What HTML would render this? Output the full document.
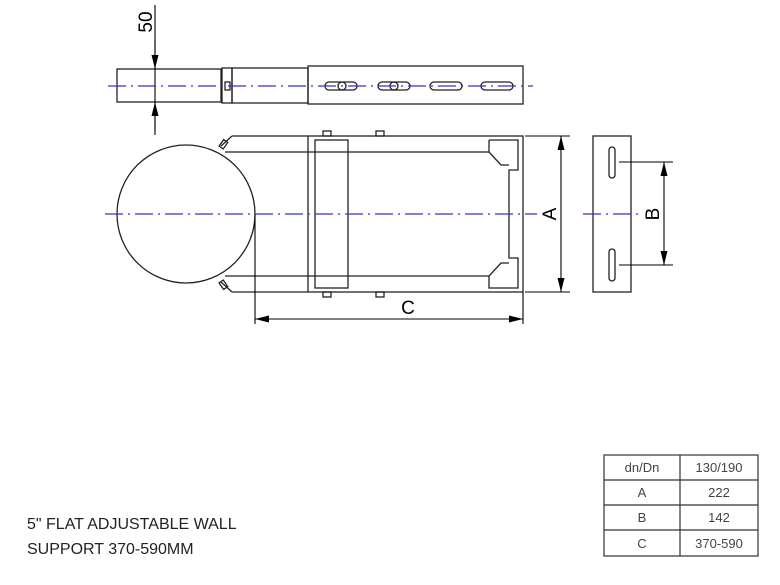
<!DOCTYPE html>
<html><head><style>
body{margin:0;background:#fff;width:780px;height:580px;overflow:hidden}
svg text{font-family:"Liberation Sans",sans-serif}
</style></head><body>
<svg width="780" height="580" viewBox="0 0 780 580" xmlns="http://www.w3.org/2000/svg">
<defs>
<marker id="ar" viewBox="0 0 16 8" refX="16" refY="4" markerWidth="16" markerHeight="7" orient="auto-start-reverse" markerUnits="userSpaceOnUse"><path d="M0,0 L16,4 L0,8z" fill="#000"/></marker>
</defs>
<g fill="none" stroke="#222" stroke-width="1.3">
<rect x="117" y="69" width="104" height="33"/>
<rect x="222" y="68" width="10" height="35"/>
<rect x="225" y="82" width="5" height="8"/>
<rect x="232" y="68" width="76" height="35"/>
<rect x="308" y="66" width="215" height="38"/>
<rect x="325" y="82" width="32" height="8" rx="4"/>
<circle cx="342" cy="86" r="4"/>
<rect x="378" y="82" width="32" height="8" rx="4"/>
<circle cx="394" cy="86" r="4"/>
<rect x="430" y="82" width="32" height="8" rx="4"/>
<rect x="481" y="82" width="32" height="8" rx="4"/>
<circle cx="186" cy="214" r="69"/>
<path d="M232,136 H308 M225,152 H308 M232,292 H308 M225,276 H308"/>
<path d="M221,146 L232,136 M221,282 L232,292"/>
<rect x="221" y="140" width="5" height="8" transform="rotate(35 223 144)"/>
<rect x="221" y="281" width="5" height="8" transform="rotate(-35 223 285)"/>
<rect x="308" y="136" width="215" height="156"/>
<path d="M308,152 H489 M308,276 H489"/>
<rect x="315" y="140" width="33" height="148"/>
<path d="M489,140 H518 V170 H509 V258 H518 V288 H489 V276 L501,263 H509 M489,152 L501,165 H509 M489,140 V152"/>
<rect x="323" y="131" width="8" height="5"/><rect x="376" y="131" width="8" height="5"/>
<rect x="323" y="292" width="8" height="5"/><rect x="376" y="292" width="8" height="5"/>
<rect x="593" y="136" width="38" height="156"/>
<rect x="609" y="147" width="6" height="31" rx="3"/>
<rect x="609" y="249" width="6" height="32" rx="3"/>
</g>
<g stroke="#000" stroke-width="1.1" fill="none">
<path d="M155,5 V135"/>
<path d="M155,40 V69" marker-end="url(#ar)"/>
<path d="M155,131 V102" marker-end="url(#ar)"/>
<path d="M525,136 H570 M525,292 H570"/>
<path d="M561,136 V292" marker-start="url(#ar)" marker-end="url(#ar)"/>
<path d="M255,214 V324 M523,292 V324"/>
<path d="M255,319 H523" marker-start="url(#ar)" marker-end="url(#ar)"/>
<path d="M619,162 H673 M619,265 H673"/>
<path d="M664,162 V265" marker-start="url(#ar)" marker-end="url(#ar)"/>
</g>
<g stroke="#3333cc" stroke-width="1.2" stroke-dasharray="18,5,2,5" fill="none">
<path d="M108,86 H533"/>
<path d="M105,214 H537"/>
<path d="M583,214 H640"/>
</g>
<g font-size="19" fill="#000">
<text transform="translate(152,22) rotate(-90)" text-anchor="middle">50</text>
<text transform="translate(556,214) rotate(-90)" text-anchor="middle">A</text>
<text transform="translate(659,214) rotate(-90)" text-anchor="middle">B</text>
<text x="408" y="314" text-anchor="middle">C</text>
</g>
<g stroke="#333" stroke-width="1.2" fill="none">
<rect x="604" y="455" width="154" height="101"/>
<path d="M680,455 V556 M604,480 H758 M604,505 H758 M604,530 H758"/>
</g>
<g font-size="13" fill="#444" text-anchor="middle">
<text x="642" y="472">dn/Dn</text><text x="719" y="472">130/190</text>
<text x="642" y="497">A</text><text x="719" y="497">222</text>
<text x="642" y="522">B</text><text x="719" y="522">142</text>
<text x="642" y="548">C</text><text x="719" y="548">370-590</text>
</g>
<g font-size="16" fill="#222">
<text x="27" y="529">5" FLAT ADJUSTABLE WALL</text>
<text x="27" y="554">SUPPORT 370-590MM</text>
</g>
</svg>
</body></html>
